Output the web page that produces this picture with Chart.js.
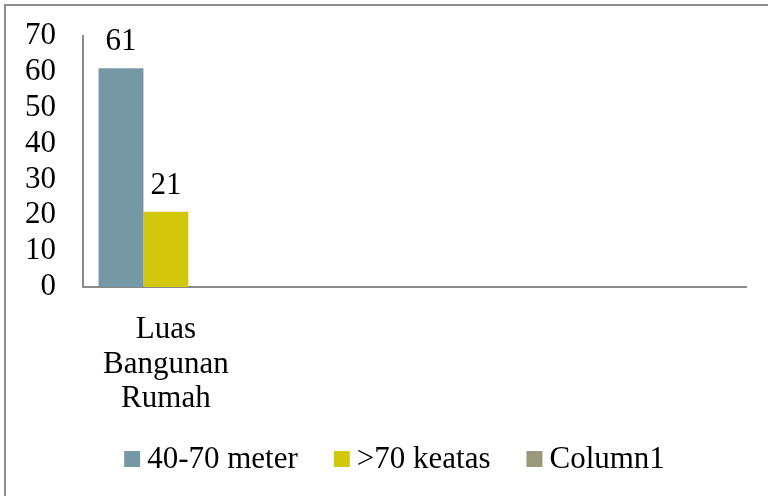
<!DOCTYPE html>
<html>
<head>
<meta charset="utf-8">
<script src="https://cdn.jsdelivr.net/npm/chart.js@4/dist/chart.umd.min.js"></script>
<style>
  html, body { margin: 0; padding: 0; background: #fff; }
  #wrap { width: 768px; height: 496px; }
</style>
</head>
<body>
<div id="wrap"><canvas id="c" width="768" height="496"></canvas></div>
<script>
// Categories (only the first one carries data; the rest are empty slots)
const categories = [['Luas', 'Bangunan', 'Rumah'], '', '', ''];
const seriesNames = ['40-70 meter', '>70 keatas', 'Column1'];
const meter40to70 = [61, null, null, null];
const above70 = [21, null, null, null];
const column1 = [null, null, null, null];
const yTicks = [0, 10, 20, 30, 40, 50, 60, 70];
const seriesColors = ['#7698a5', '#d2c70d', '#9b997d'];

const FONT = '"Liberation Serif", "Times New Roman", serif';
const FONT_SIZE = 31;

// White background and the frame around the chart
const frame = {
  id: 'frame',
  beforeDraw(chart) {
    const ctx = chart.ctx;
    ctx.save();
    ctx.fillStyle = '#fff';
    ctx.fillRect(0, 0, chart.width, chart.height);
    ctx.strokeStyle = '#8e8e8e';
    ctx.lineWidth = 2;
    ctx.strokeRect(5, 5, chart.width + 40, chart.height + 40);
    ctx.restore();
  }
};

// Value printed above each bar
const valueLabels = {
  id: 'valueLabels',
  afterDatasetsDraw(chart) {
    const ctx = chart.ctx;
    ctx.save();
    ctx.font = FONT_SIZE + 'px ' + FONT;
    ctx.fillStyle = '#000';
    ctx.textAlign = 'center';
    ctx.textBaseline = 'alphabetic';
    chart.data.datasets.forEach((ds, i) => {
      const meta = chart.getDatasetMeta(i);
      meta.data.forEach((bar, j) => {
        const v = ds.data[j];
        if (v === null || v === undefined) return;
        ctx.fillText(String(v), bar.x, bar.y - 18);
      });
    });
    ctx.restore();
  }
};

// Legend row at the bottom: square swatch followed by the series name
const bottomLegend = {
  id: 'bottomLegend',
  afterDraw(chart) {
    const ctx = chart.ctx;
    const box = 16, gapText = 7, gapItem = 36;
    ctx.save();
    ctx.font = FONT_SIZE + 'px ' + FONT;
    const widths = chart.data.datasets.map(ds => box + gapText + ctx.measureText(ds.label).width);
    const total = widths.reduce((a, b) => a + b, 0) + gapItem * (widths.length - 1);
    let x = 394.5 - total / 2;
    const yMid = 459;
    chart.data.datasets.forEach((ds, i) => {
      ctx.fillStyle = ds.backgroundColor;
      ctx.fillRect(x, yMid - box / 2, box, box);
      ctx.fillStyle = '#000';
      ctx.textAlign = 'left';
      ctx.textBaseline = 'middle';
      ctx.fillText(ds.label, x + box + gapText, yMid + 1);
      x += widths[i] + gapItem;
    });
    ctx.restore();
  }
};

function draw() {
  new Chart(document.getElementById('c'), {
    type: 'bar',
    data: {
      labels: categories,
      datasets: [
        { label: seriesNames[0], data: meter40to70, backgroundColor: seriesColors[0] },
        { label: seriesNames[1], data: above70, backgroundColor: seriesColors[1] },
        { label: seriesNames[2], data: column1, backgroundColor: seriesColors[2] }
      ]
    },
    options: {
      responsive: false,
      animation: false,
      devicePixelRatio: 1,
      layout: { padding: { top: 36, right: 22, left: 0, bottom: 0 } },
      datasets: { bar: { categoryPercentage: 0.812, barPercentage: 1.0 } },
      plugins: {
        legend: { display: false },
        tooltip: { enabled: false }
      },
      scales: {
        x: {
          grid: { display: false, drawTicks: false },
          border: { display: true, color: '#8a8a8a', width: 2 },
          ticks: {
            color: '#000',
            font: { family: FONT, size: FONT_SIZE, lineHeight: 1.11 },
            padding: 26,
            maxRotation: 0,
            autoSkip: false
          },
          afterFit(scale) { scale.height = 209; }
        },
        y: {
          min: yTicks[0],
          max: yTicks[yTicks.length - 1],
          afterBuildTicks(scale) { scale.ticks = yTicks.map(v => ({ value: v })); },
          grid: { display: false, drawTicks: false },
          border: { display: true, color: '#8a8a8a', width: 2 },
          ticks: {
            color: '#000',
            font: { family: FONT, size: FONT_SIZE, lineHeight: 1.0 },
            padding: 27,
            autoSkip: false
          },
          afterFit(scale) {
            scale.width = 83;
            scale.paddingTop = 0;
            scale.paddingBottom = 0;
          }
        }
      }
    },
    plugins: [frame, valueLabels, bottomLegend]
  });
}

if (document.fonts && document.fonts.load) {
  document.fonts.load(FONT_SIZE + 'px "Liberation Serif"').then(draw, draw);
} else {
  draw();
}
</script>
</body>
</html>
